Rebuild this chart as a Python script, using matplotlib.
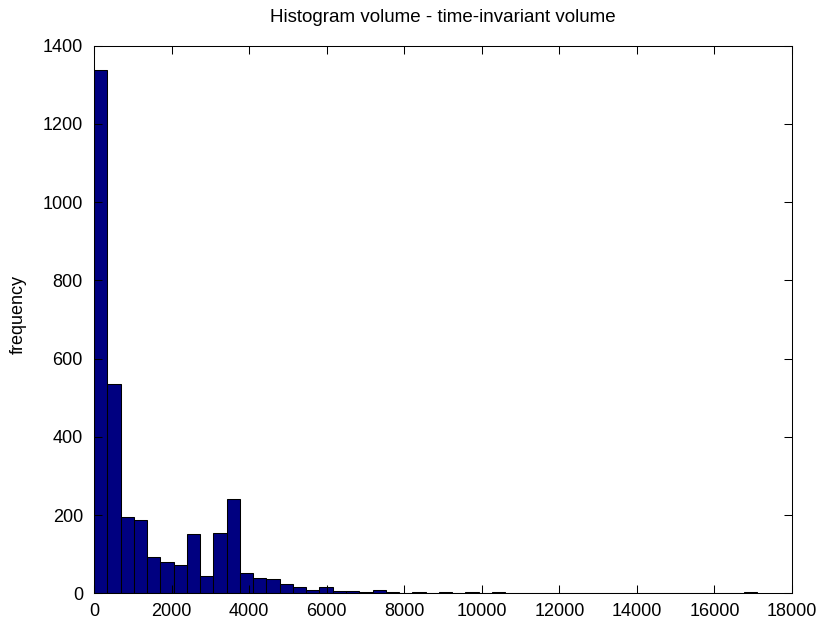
import numpy as np
import matplotlib
matplotlib.use('Agg')
import matplotlib.pyplot as plt

# histogram of volume: 50 equal bins between the min and max volume
vol_min = 0
vol_max = 17100
n_bins = 50
counts = [1338, 535, 195, 188, 93, 80, 72, 151, 44, 154,
          241, 52, 40, 36, 25, 16, 8, 17, 7, 6,
          3, 8, 3, 0, 3, 0, 3, 0, 3, 0,
          3, 0, 0, 0, 0, 2, 2, 0, 0, 0,
          0, 0, 0, 0, 0, 0, 0, 0, 0, 4]

x_ticks = np.arange(0, 18001, 2000)
y_ticks = np.arange(0, 1401, 200)

plt.rcParams['font.family'] = ['Liberation Sans', 'DejaVu Sans']
plt.rcParams['font.size'] = 13

fig = plt.figure(figsize=(8.21, 6.21), dpi=100)
ax = fig.add_axes([0.1145, 0.0446, 0.8502, 0.8818])

edges = np.linspace(vol_min, vol_max, n_bins + 1)
ax.bar(edges[:-1], counts, width=np.diff(edges), align='edge',
       color='#000080', edgecolor='black', linewidth=0.75)

ax.set_xlim(0, 18000)
ax.set_ylim(0, 1400)
ax.set_xticks(x_ticks)
ax.set_yticks(y_ticks)
ax.tick_params(direction='in', top=True, right=True, length=5.8, width=0.75,
               labelsize=13)
ax.tick_params(axis='y', pad=8)
ax.tick_params(axis='x', pad=7)
for sp in ax.spines.values():
    sp.set_linewidth(0.75)

ax.set_title('Histogram volume - time-invariant volume', fontsize=13.5, pad=17)
ax.set_ylabel('frequency', fontsize=13)
ax.yaxis.set_label_coords(-0.096, 0.51)

fig.savefig('out.png', dpi=100)
